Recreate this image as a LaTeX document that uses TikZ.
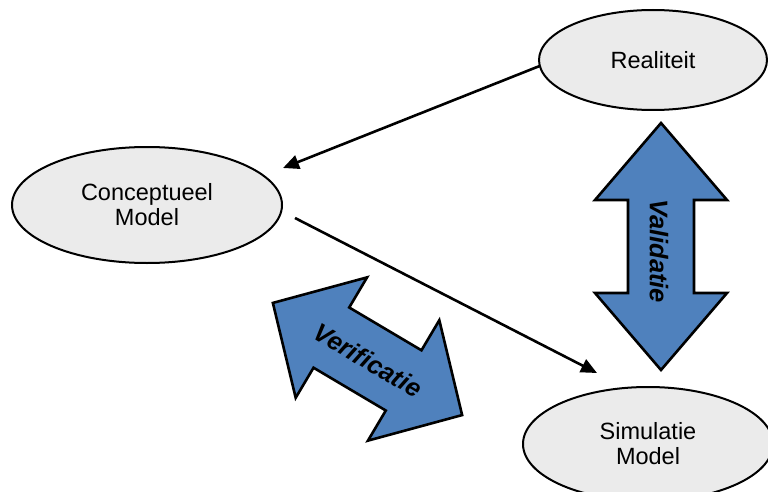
\documentclass[tikz,border=0pt]{standalone}
\usepackage{fontspec}
\setmainfont{Liberation Sans}
\usetikzlibrary{arrows.meta,shapes.geometric}
\definecolor{ellfill}{RGB}{235,235,235}
\definecolor{arrblue}{RGB}{79,129,189}
\tikzset{
  ell/.style={ellipse, draw=black, line width=2pt, fill=ellfill, inner sep=0pt, outer sep=0pt,
    align=center, font=\fontsize{23.5}{25}\selectfont},
  conn/.style={line width=2.6pt, -{Triangle[length=16pt,width=14pt]}},
  blockarrow/.style={draw=black, line width=2.6pt, fill=arrblue, line join=miter},
  blocklabel/.style={font=\fontsize{25.5}{27}\selectfont\bfseries\itshape, inner sep=0pt}
}
\begin{document}
\begin{tikzpicture}[x=1pt,y=-1pt]
\useasboundingbox (0,0) rectangle (768,492);
% ellipses
\node[ell, minimum width=228pt, minimum height=100pt] (real) at (653,60) {Realiteit};
\node[ell, minimum width=270pt, minimum height=116pt] (conc) at (147,205) {Conceptueel\\Model};
\node[ell, minimum width=250pt, minimum height=114pt] (sim) at (648,444) {Simulatie\\Model};
% connectors
\coordinate (rcEnd) at (283,168);
\draw[conn] (real.183.5) -- (rcEnd);
\coordinate (csStart) at (295,218);
\coordinate (csEnd) at (597,373);
\draw[conn] (csStart) -- (csEnd);
% Validatie block arrow
\begin{scope}[shift={(661,246.5)}, rotate=-90]
  \draw[blockarrow] (-123.5,0) -- (-46.5,66) -- (-46.5,33) -- (46.5,33) -- (46.5,66) -- (123.5,0)
    -- (46.5,-66) -- (46.5,-33) -- (-46.5,-33) -- (-46.5,-66) -- cycle;
\end{scope}
\node[blocklabel, rotate=-90] (valtext) at (659,251) {Validatie};
% Verificatie block arrow
\begin{scope}[shift={(367.5,359)}, rotate=-30.65]
  \draw[blockarrow] (-110,0) -- (-42,70) -- (-42,35) -- (42,35) -- (42,70) -- (110,0)
    -- (42,-70) -- (42,-35) -- (-42,-35) -- (-42,-70) -- cycle;
\end{scope}
\node[blocklabel, rotate=-30.65] (vertext) at (368,360) {Verificatie};
\end{tikzpicture}
\end{document}
